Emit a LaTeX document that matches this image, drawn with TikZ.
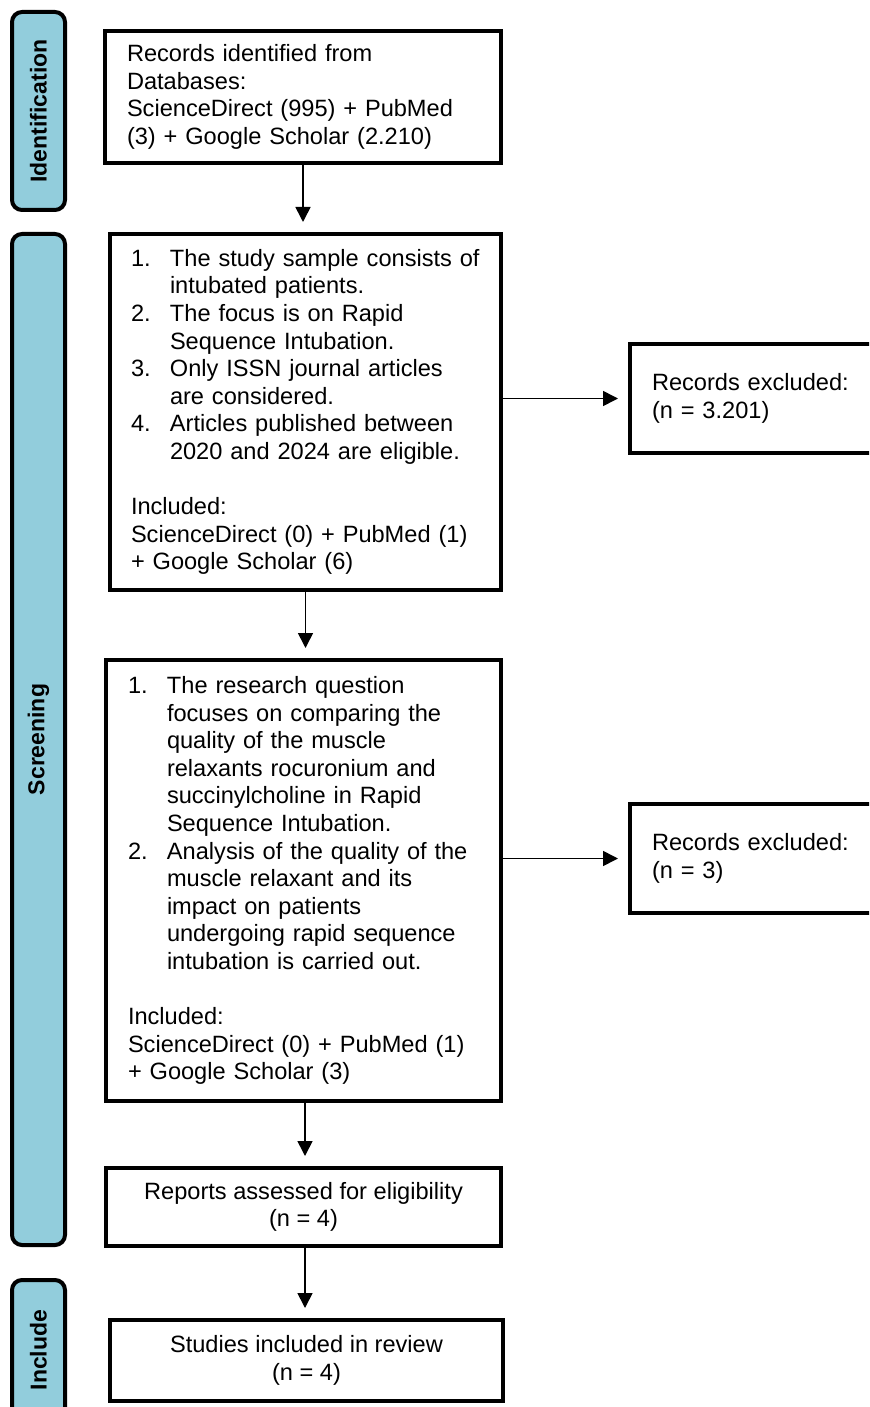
\documentclass[tikz,border=0pt]{standalone}
\usepackage{fontspec}
\setmainfont{Liberation Sans}
\usepackage{tikz}
\usetikzlibrary{arrows.meta, positioning, calc}
\definecolor{stageblue}{RGB}{146,205,220}
\definecolor{mydark}{RGB}{0,0,0}
\newcommand{\li}[2]{\mbox{\makebox[19.5pt][l]{#1}#2}}
\newcommand{\lc}[1]{\mbox{\hspace*{19.5pt}#1}}
\tikzset{
  stage/.style={rectangle, draw=mydark, fill=stageblue, rotate=90,
    minimum height=26.5pt, rounded corners=5pt, line width=2pt,
    font=\fontsize{11.5pt}{13pt}\selectfont\bfseries},
  block/.style={rectangle, draw=mydark, line width=2pt, inner xsep=11pt,
    align=left, font=\fontsize{11.8pt}{13.8pt}\selectfont},
  cblock/.style={rectangle, draw=mydark, line width=2pt, align=center,
    font=\fontsize{11.8pt}{13.8pt}\selectfont},
  arrow/.style={-{Triangle[length=7.5pt,width=7.5pt]}, line width=0.8pt,
    color=mydark, shorten >=5pt}
}
\begin{document}
\begin{tikzpicture}[x=0.5pt, y=-0.5pt]
  \useasboundingbox (0,0) rectangle (869,1407);
  \clip (0,0) rectangle (869,1407);
  % Stages
  \node[stage, minimum width=99pt] (ident) at (38.5,111) {Identification};
  \node[stage, minimum width=505.5pt] (screen) at (38.5,739.5) {Screening};
  \node[stage, minimum width=70pt] (incl) at (38.5,1350) {Include};
  % Identification
  \node[block, text width=176pt, minimum height=66pt] (records) at (303,97)
    {Records identified from\\ Databases:\\
     ScienceDirect (995) + PubMed\\ (3) + Google Scholar (2.210)};
  % First screening
  \node[block, inner xsep=10.5pt, text width=174.5pt, minimum height=178pt] (screen1) at (305.5,412)
    {\li{1.}{The study sample consists of}\\ \lc{intubated patients.}\\
     \li{2.}{The focus is on Rapid}\\ \lc{Sequence Intubation.}\\
     \li{3.}{Only ISSN journal articles}\\ \lc{are considered.}\\
     \li{4.}{Articles published between}\\ \lc{2020 and 2024 are eligible.}\\[13.8pt]
     Included:\\ \mbox{ScienceDirect (0) + PubMed (1)}\\ + Google Scholar (6)};
  \node[block, text width=115.5pt, minimum height=54.5pt] (excl1) at (767.5,398.5)
    {Records excluded:\\ (n = 3.201)};
  % Second screening
  \node[block, text width=175.5pt, minimum height=220.5pt] (screen2) at (303.5,880.5)
    {\li{1.}{The research question}\\ \lc{focuses on comparing the}\\
     \lc{quality of the muscle}\\ \lc{relaxants rocuronium and}\\
     \lc{succinylcholine in Rapid}\\ \lc{Sequence Intubation.}\\
     \li{2.}{Analysis of the quality of the}\\ \lc{muscle relaxant and its}\\
     \lc{impact on patients}\\ \lc{undergoing rapid sequence}\\
     \lc{intubation is carried out.}\\[13.8pt]
     Included:\\ \mbox{ScienceDirect (0) + PubMed (1)}\\ + Google Scholar (3)};
  \node[block, text width=115.5pt, minimum height=54.5pt] (excl2) at (767.5,858.5)
    {Records excluded:\\ (n = 3)};
  % Eligibility and inclusion
  \node[cblock, minimum width=197.5pt, minimum height=39pt] (reports) at (303.5,1207)
    {Reports assessed for eligibility\\ (n = 4)};
  \node[cblock, minimum width=196.5pt, minimum height=40.5pt] (studies) at (306.5,1360.5)
    {Studies included in review\\ (n = 4)};
  % Arrows
  \draw[arrow] (records.south) -- (records.south |- screen1.north);
  \draw[arrow] (screen1.east |- excl1.west) -- (excl1.west);
  \draw[arrow] (screen1.south) -- (screen1.south |- screen2.north);
  \draw[arrow] (screen2.east |- excl2.west) -- (excl2.west);
  \draw[arrow] ([xshift=0.75pt]screen2.south) -- ([xshift=0.75pt]screen2.south |- reports.north);
  \draw[arrow] ([xshift=0.75pt]reports.south) -- ([xshift=0.75pt]reports.south |- studies.north);
\end{tikzpicture}
\end{document}
